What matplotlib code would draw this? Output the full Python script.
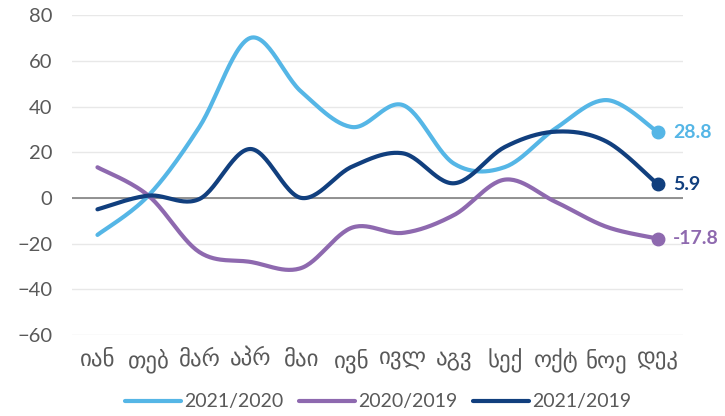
import matplotlib.pyplot as plt
import numpy as np

plt.rcParams['font.family'] = ['Lato', 'DejaVu Sans']

months = ['იან', 'თებ', 'მარ', 'აპრ', 'მაი', 'ივნ', 'ივლ', 'აგვ', 'სექ', 'ოქტ', 'ნოე', 'დეკ']
s_2021_2020 = [-16.2, 1.0, 31.0, 70.0, 46.5, 31.0, 40.6, 15.0, 13.5, 30.5, 42.8, 28.8]
s_2020_2019 = [13.4, 1.0, -23.7, -28.0, -30.7, -13.0, -15.3, -7.5, 8.0, -1.8, -12.7, -17.8]
s_2021_2019 = [-5.0, 1.0, -0.5, 21.4, 0.0, 13.7, 19.5, 6.4, 22.3, 29.0, 24.6, 5.9]
series_names = ['2021/2020', '2020/2019', '2021/2019']
colors = ['#55B6E6', '#8E69AF', '#113F7E']


def smooth(x, y, n=30):
    # catmull-rom style smoothing, like excel "smoothed line"
    x = np.asarray(x, float)
    y = np.asarray(y, float)
    xs, ys = [], []
    for i in range(len(x) - 1):
        p0 = (x[i - 1], y[i - 1]) if i > 0 else (x[i], y[i])
        p1 = (x[i], y[i])
        p2 = (x[i + 1], y[i + 1])
        p3 = (x[i + 2], y[i + 2]) if i + 2 < len(x) else (x[i + 1], y[i + 1])
        c1 = (p1[0] + (p2[0] - p0[0]) / 6, p1[1] + (p2[1] - p0[1]) / 6)
        c2 = (p2[0] - (p3[0] - p1[0]) / 6, p2[1] - (p3[1] - p1[1]) / 6)
        t = np.linspace(0, 1, n)
        for a, b in ((0, xs), (1, ys)):
            b.extend((1 - t) ** 3 * p1[a] + 3 * (1 - t) ** 2 * t * c1[a]
                     + 3 * (1 - t) * t ** 2 * c2[a] + t ** 3 * p2[a])
    return np.array(xs), np.array(ys)


fig = plt.figure(figsize=(7.25, 4.16), dpi=100)
ax = fig.add_axes([0.0993, 0.1947, 0.843, 0.769])

x = np.arange(len(months))
for vals, name, c in zip([s_2021_2020, s_2020_2019, s_2021_2019], series_names, colors):
    sx, sy = smooth(x, vals)
    ax.plot(sx, sy, color=c, lw=3, label=name, solid_capstyle='round', zorder=3)
    ax.plot(x[-1], vals[-1], 'o', color=c, ms=9, zorder=4)
    ax.annotate(f'{vals[-1]:.1f}', (x[-1], vals[-1]), xytext=(11, 0),
                textcoords='offset points', va='center', ha='left',
                color=c, fontsize=14, fontweight='bold', annotation_clip=False)

ax.axhline(0, color='#808080', lw=1.2, zorder=2)
ax.set_ylim(-60, 80)
ax.set_yticks(range(-60, 81, 20))
ax.set_xlim(-0.5, len(months) - 0.5)
ax.set_xticks(x)
ax.set_xticklabels(months, fontsize=16.5)
ax.grid(axis='y', color='#E8E8E8', lw=1)
ax.set_axisbelow(True)
for sp in ax.spines.values():
    sp.set_visible(False)
ax.tick_params(length=0, colors='#595959')
ax.tick_params(axis='y', labelsize=14.5, pad=14)
ax.tick_params(axis='x', pad=10)

leg = fig.legend(loc='center', bbox_to_anchor=(0.5215, 0.034), ncol=3, frameon=False,
                 fontsize=14, labelcolor='#595959', handlelength=2.9, handletextpad=0.15,
                 columnspacing=0.8)

fig.savefig('out.png', dpi=100)
